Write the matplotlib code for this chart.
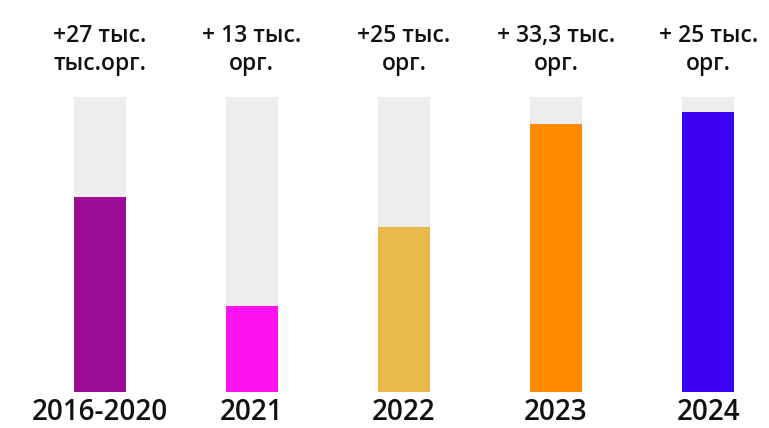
import matplotlib.pyplot as plt
import numpy as np

years = ['2016-2020', '2021', '2022', '2023', '2024']
values = [66, 29, 56, 91, 95]  # filled share of each column, %
labels = ['+27 тыс.\nтыс.орг.', '+ 13 тыс.\nорг.', '+25 тыс.\nорг.',
          '+ 33,3 тыс.\nорг.', '+ 25 тыс.\nорг.']
colors = ['#9A0C94', '#FF12F2', '#E8B94C', '#FF8A00', '#3C00F2']

plt.rcParams['font.family'] = ['Open Sans', 'DejaVu Sans']

fig = plt.figure(figsize=(7.69, 4.28), dpi=100)
ax = fig.add_axes([0, 0, 1, 1])

x = np.arange(len(years))
w = 0.34
ax.bar(x, [100] * len(years), width=w, color='#EDEDED')
ax.bar(x, values, width=w, color=colors)

for i in range(len(years)):
    ax.text(x[i], 116.0, labels[i], ha='center', va='center',
            fontsize=16.5, fontweight='semibold', linespacing=1.25, color='#111111')
    ax.text(x[i], -7, years[i], ha='center', va='center',
            fontsize=20, fontweight='semibold', color='#111111')

ax.set_xlim(-0.655, 4.40)
ax.set_ylim(-12.2, 132.9)
ax.axis('off')

fig.savefig('out.png', dpi=100)
